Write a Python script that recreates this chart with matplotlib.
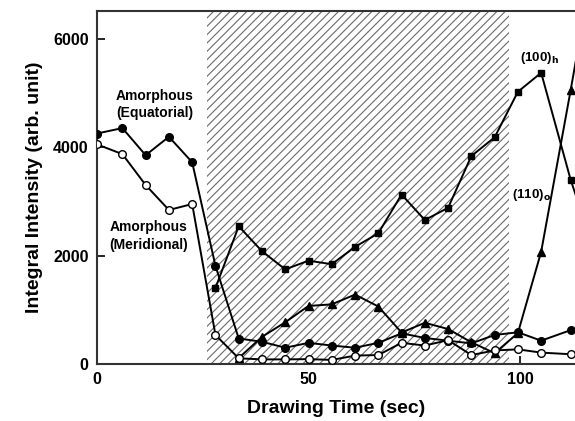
import numpy as np
import matplotlib.pyplot as plt

plt.rcParams['font.family'] = ['Liberation Sans', 'DejaVu Sans']
plt.rcParams['font.weight'] = 'bold'
plt.rcParams['hatch.color'] = '#6a6a6a'
plt.rcParams['hatch.linewidth'] = 0.8

# tiempos de medida (s)
t = [0, 6, 11.5, 17, 22.5, 28, 33.5, 39, 44.5, 50, 55.5, 61, 66.5, 72,
     77.5, 83, 88.5, 94, 99.5, 105, 112]

# amorfo ecuatorial (circulos llenos)
amor_eq = [4250, 4350, 3850, 4190, 3720, 1810, 470, 410, 300, 390, 340,
           300, 390, 565, 480, 430, 380, 535, 585, 430, 625]
# amorfo meridional (circulos vacios)
amor_mer = [4050, 3870, 3300, 2840, 2950, 535, 105, 85, 85, 90, 75,
            155, 165, 390, 340, 440, 165, 250, 270, 210, 180]

# (100)h cuadrados, desde 28 s
t_h = [28, 33.5, 39, 44.5, 50, 55.5, 61, 66.5, 72, 77.5, 83, 88.5, 94,
       99.5, 105, 112, 117.5]
c100h = [1400, 2540, 2080, 1745, 1905, 1840, 2160, 2410, 3125, 2655, 2880,
         3835, 4180, 5020, 5370, 3390, 2100]

# (110)o triangulos, desde 33.5 s
t_o = [33.5, 39, 44.5, 50, 55.5, 61, 66.5, 72, 77.5, 83, 88.5, 94, 99.5,
       105, 112, 117.5]
c110o = [110, 500, 770, 1070, 1100, 1280, 1060, 580, 760, 645, 400, 200,
         570, 2070, 5060, 7500]

zona = (26, 97.4)  # zona rayada

fig = plt.figure(figsize=(5.75, 4.21), dpi=100)
ax = fig.add_axes([0.1687, 0.1354, 0.8313, 0.8373])

ax.axvspan(zona[0], zona[1], facecolor='white', edgecolor='#6a6a6a',
           hatch='////', linewidth=0, zorder=0)

kw = dict(color='black', lw=1.4, clip_on=True)
ax.plot(t, amor_eq, marker='o', ms=5.5, mfc='black', mec='black', zorder=3, **kw)
ax.plot(t, amor_mer, marker='o', ms=5.5, mfc='white', mec='black', mew=1.0, zorder=4, **kw)
ax.plot(t_h, c100h, marker='s', ms=5, mfc='black', mec='black', zorder=3, **kw)
ax.plot(t_o, c110o, marker='^', ms=5.5, mfc='black', mec='black', zorder=3, **kw)

ax.text(13.7, 4790, 'Amorphous\n(Equatorial)', ha='center', va='center',
        fontsize=10, fontweight='bold', linespacing=1.3)
ax.text(12.3, 2360, 'Amorphous\n(Meridional)', ha='center', va='center',
        fontsize=10, fontweight='bold', linespacing=1.3)
ax.text(104.7, 5650, r'(100)$_{\mathbf{h}}$', ha='center', va='center',
        fontsize=9.5, fontweight='bold')
ax.text(102.8, 3115, r'(110)$_{\mathbf{o}}$', ha='center', va='center',
        fontsize=9.5, fontweight='bold')

ax.set_xlim(0, 113)
ax.set_ylim(0, 6500)
ax.set_xticks([0, 50, 100])
ax.set_yticks([0, 2000, 4000, 6000])
ax.tick_params(direction='in', length=6, width=1.2, labelsize=11.5, pad=6)
for lab in ax.get_xticklabels() + ax.get_yticklabels():
    lab.set_fontweight('bold')

for s in ['left', 'bottom', 'top']:
    ax.spines[s].set_linewidth(1.5)
    ax.spines[s].set_color('#333333')
ax.spines['right'].set_visible(False)

ax.set_xlabel('Drawing Time (sec)', fontsize=14, fontweight='bold', labelpad=9)
ax.set_ylabel('Integral Intensity (arb. unit)', fontsize=14, fontweight='bold', labelpad=7)

plt.savefig('out.png', dpi=100)
